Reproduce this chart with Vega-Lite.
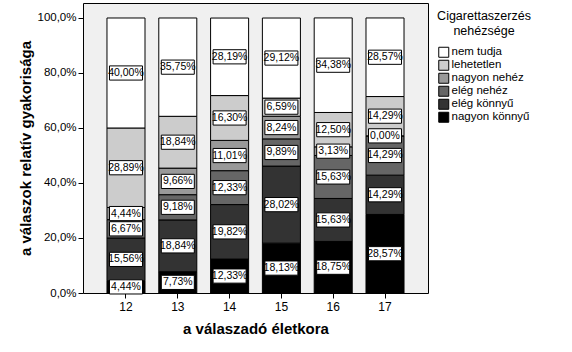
{
  "$schema": "https://vega.github.io/schema/vega-lite/v6.json",
  "width": 345,
  "height": 290,
  "autosize": {"type": "none"},
  "padding": {"left": 83, "top": 3, "right": 144, "bottom": 59},
  "background": "white",
  "config": {
    "locale": {"number": {"decimal": ",", "thousands": " ", "grouping": [3], "currency": ["", " Ft"]}},
    "font": "Liberation Sans",
    "axis": {"labelFont": "Liberation Sans", "titleFont": "Liberation Sans"},
    "legend": {"labelFont": "Liberation Sans", "titleFont": "Liberation Sans"},
    "text": {"font": "Liberation Sans"},
    "view": {"fill": "#f0f0f0", "stroke": "#000000", "strokeWidth": 1}
  },
  "data": {"values": [
    {"age": "12", "cat": "nagyon könnyű", "ord": 1, "value": 0.0444},
    {"age": "12", "cat": "elég könnyű", "ord": 2, "value": 0.1556},
    {"age": "12", "cat": "elég nehéz", "ord": 3, "value": 0.0667},
    {"age": "12", "cat": "nagyon nehéz", "ord": 4, "value": 0.0444},
    {"age": "12", "cat": "lehetetlen", "ord": 5, "value": 0.2889},
    {"age": "12", "cat": "nem tudja", "ord": 6, "value": 0.4000},
    {"age": "13", "cat": "nagyon könnyű", "ord": 1, "value": 0.0773},
    {"age": "13", "cat": "elég könnyű", "ord": 2, "value": 0.1884},
    {"age": "13", "cat": "elég nehéz", "ord": 3, "value": 0.0918},
    {"age": "13", "cat": "nagyon nehéz", "ord": 4, "value": 0.0966},
    {"age": "13", "cat": "lehetetlen", "ord": 5, "value": 0.1884},
    {"age": "13", "cat": "nem tudja", "ord": 6, "value": 0.3575},
    {"age": "14", "cat": "nagyon könnyű", "ord": 1, "value": 0.1233},
    {"age": "14", "cat": "elég könnyű", "ord": 2, "value": 0.1982},
    {"age": "14", "cat": "elég nehéz", "ord": 3, "value": 0.1233},
    {"age": "14", "cat": "nagyon nehéz", "ord": 4, "value": 0.1101},
    {"age": "14", "cat": "lehetetlen", "ord": 5, "value": 0.1630},
    {"age": "14", "cat": "nem tudja", "ord": 6, "value": 0.2819},
    {"age": "15", "cat": "nagyon könnyű", "ord": 1, "value": 0.1813},
    {"age": "15", "cat": "elég könnyű", "ord": 2, "value": 0.2802},
    {"age": "15", "cat": "elég nehéz", "ord": 3, "value": 0.0989},
    {"age": "15", "cat": "nagyon nehéz", "ord": 4, "value": 0.0824},
    {"age": "15", "cat": "lehetetlen", "ord": 5, "value": 0.0659},
    {"age": "15", "cat": "nem tudja", "ord": 6, "value": 0.2912},
    {"age": "16", "cat": "nagyon könnyű", "ord": 1, "value": 0.1875},
    {"age": "16", "cat": "elég könnyű", "ord": 2, "value": 0.1563},
    {"age": "16", "cat": "elég nehéz", "ord": 3, "value": 0.1563},
    {"age": "16", "cat": "nagyon nehéz", "ord": 4, "value": 0.0313},
    {"age": "16", "cat": "lehetetlen", "ord": 5, "value": 0.1250},
    {"age": "16", "cat": "nem tudja", "ord": 6, "value": 0.3438},
    {"age": "17", "cat": "nagyon könnyű", "ord": 1, "value": 0.2857},
    {"age": "17", "cat": "elég könnyű", "ord": 2, "value": 0.1429},
    {"age": "17", "cat": "elég nehéz", "ord": 3, "value": 0.1429},
    {"age": "17", "cat": "nagyon nehéz", "ord": 4, "value": 0.0000},
    {"age": "17", "cat": "lehetetlen", "ord": 5, "value": 0.1429},
    {"age": "17", "cat": "nem tudja", "ord": 6, "value": 0.2857}
  ]},
  "encoding": {
    "x": {
      "field": "age", "type": "nominal",
      "scale": {"paddingInner": 0.266, "paddingOuter": 0.463},
      "axis": {
        "title": "a válaszadó életkora", "titleFontSize": 15, "titleFontWeight": "bold",
        "titleColor": "#000", "titlePadding": 9,
        "labelAngle": 0, "labelFontSize": 12, "labelColor": "#000", "labelPadding": 3,
        "tickColor": "#000", "tickSize": 5, "domain": false
      }
    },
    "y": {
      "field": "value", "type": "quantitative", "stack": "zero",
      "scale": {"domain": [0, 1.0545], "nice": false},
      "axis": {
        "title": "a válaszok relatív gyakorisága", "titleFontSize": 15, "titleFontWeight": "bold",
        "titleColor": "#000", "titlePadding": 3,
        "values": [0, 0.2, 0.4, 0.6, 0.8, 1.0], "format": ".1%",
        "labelFontSize": 11.5, "labelColor": "#000", "labelPadding": 2,
        "tickColor": "#000", "tickSize": 5, "grid": false, "domain": false
      }
    },
    "order": {"field": "ord", "type": "quantitative"}
  },
  "layer": [
    {
      "mark": {"type": "bar", "stroke": "#000", "strokeWidth": 1, "opacity": 1},
      "encoding": {
        "color": {
          "field": "cat", "type": "nominal",
          "scale": {
            "domain": ["nem tudja", "lehetetlen", "nagyon nehéz", "elég nehéz", "elég könnyű", "nagyon könnyű"],
            "range": ["#ffffff", "#cccccc", "#999999", "#666666", "#333333", "#000000"]
          },
          "legend": {
            "title": ["Cigarettaszerzés", "nehézsége"],
            "titleFontSize": 12.5, "titleFontWeight": "normal", "titleColor": "#000",
            "titleFont": "Liberation Sans", "titleLineHeight": 15,
            "titleAlign": "center", "titleAnchor": "middle", "titlePadding": 9,
            "orient": "none", "legendX": 354, "legendY": 7,
            "symbolType": "square", "symbolSize": 100, "symbolStrokeColor": "#000",
            "symbolStrokeWidth": 1, "symbolOpacity": 1,
            "labelFont": "Liberation Sans", "labelFontSize": 11.5, "labelColor": "#000", "labelOffset": 2,
            "rowPadding": -4
          }
        }
      }
    },
    {
      "mark": {"type": "point", "shape": "M-1,-0.43H1V0.43H-1Z", "size": 1089, "filled": true, "fill": "#ffffff", "stroke": "#000", "strokeWidth": 1, "opacity": 1},
      "encoding": {
        "y": {"field": "value", "type": "quantitative", "stack": "zero", "bandPosition": 0.5}
      }
    },
    {
      "mark": {"type": "text", "font": "Liberation Sans", "fontSize": 10.5, "color": "#000", "align": "center", "baseline": "middle"},
      "encoding": {
        "y": {"field": "value", "type": "quantitative", "stack": "zero", "bandPosition": 0.5},
        "text": {"field": "value", "type": "quantitative", "format": ".2%"}
      }
    }
  ]
}
